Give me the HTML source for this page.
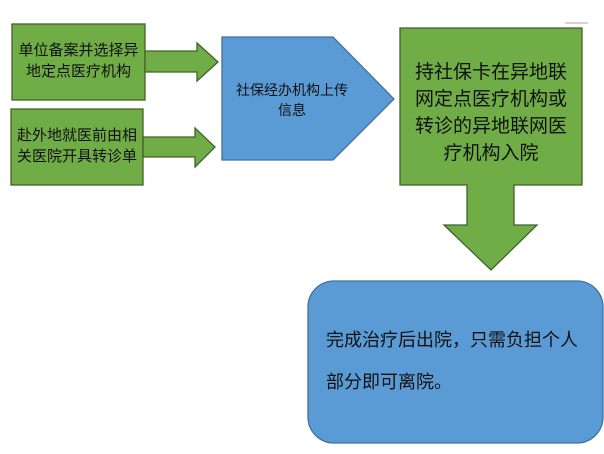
<!DOCTYPE html>
<html><head><meta charset="utf-8"><style>
body{margin:0;width:604px;height:454px;background:#fff;overflow:hidden;position:relative;font-family:"Liberation Sans","Noto Sans CJK SC",sans-serif;color:#111}
.t{position:absolute;text-align:center;white-space:nowrap}
</style></head><body>
<svg width="604" height="454" style="position:absolute;left:0;top:0">
<g stroke="#41622a" stroke-width="1.3" fill="#70ad47">
<rect x="12" y="24" width="133" height="76"/>
<polygon points="145,51 197,51 197,43 218,62 197,81 197,72 145,72"/>
<rect x="11" y="109" width="132" height="76"/>
<polygon points="143,137 195,137 195,128 215,147 195,167 195,157 143,157"/>
<polygon points="400,28 582,28 582,185 514,185 514,225 537,225 491,270 444,225 467,225 467,185 400,185"/>
</g>
<polygon points="222,37 333,37 394,99 333,160 222,160" fill="#5b9bd5" stroke="#41719c" stroke-width="1.3"/>
<rect x="308" y="281" width="295" height="162" rx="26" fill="#5b9bd5" stroke="#41719c" stroke-width="1.3"/>
<line x1="565" y1="23" x2="588" y2="23" stroke="#aaa"/>
</svg>
<div class="t" style="left:12px;width:133px;top:40px;font-size:15px;line-height:21px">单位备案并选择异<br>地定点医疗机构</div>
<div class="t" style="left:11px;width:132px;top:125px;font-size:15px;line-height:21px">赴外地就医前由相<br>关医院开具转诊单</div>
<div class="t" style="left:222px;width:140px;top:80px;font-size:14px;line-height:20px">社保经办机构上传<br>信息</div>
<div class="t" style="left:400px;width:182px;top:59px;font-size:19px;line-height:27px">持社保卡在异地联<br>网定点医疗机构或<br>转诊的异地联网医<br>疗机构入院</div>
<div class="t" style="left:326px;top:319px;font-size:18px;line-height:42px;text-align:left">完成治疗后出院，只需负担个人<br>部分即可离院。</div>
</body></html>
